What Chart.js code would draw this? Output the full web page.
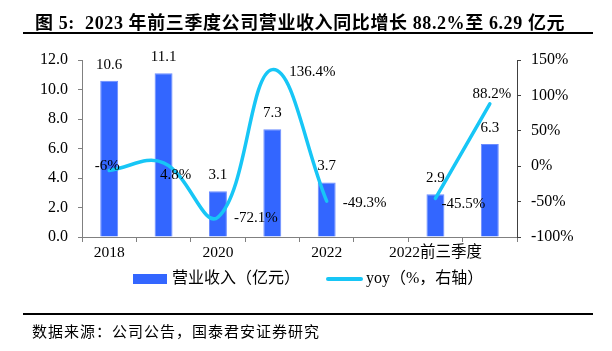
<!DOCTYPE html>
<html>
<head>
<meta charset="utf-8">
<script src="https://cdn.jsdelivr.net/npm/chart.js@4.4.0/dist/chart.umd.min.js"></script>
<style>
  html, body { margin: 0; padding: 0; background: #fff; }
  #wrap { position: relative; width: 612px; height: 351px; overflow: hidden; }
  #c { position: absolute; left: 0; top: 0; }
  .title { position: absolute; left: 35px; top: 8px; font: bold 18px "Liberation Serif", "Noto Sans CJK SC", serif; letter-spacing: 0.6px; color: #000; white-space: pre; }
  .rule { position: absolute; left: 23px; width: 570px; height: 2px; background: #000; }
  .src { position: absolute; left: 32px; top: 320px; font: 15px "Liberation Serif", "Noto Sans CJK SC", serif; letter-spacing: 1px; color: #000; white-space: nowrap; }
  .leg { position: absolute; top: 269px; font: 16px "Liberation Serif", "Noto Sans CJK SC", serif; color: #000; white-space: nowrap; line-height: 18px; }
  .box { position: absolute; left: 133px; top: 274px; width: 34px; height: 10px; background: #3366ff; }
  .ln { position: absolute; left: 326px; top: 277px; width: 37px; height: 4px; border-radius: 2px; background: #17c6f6; }
</style>
</head>
<body>
<div id="wrap">
  <canvas id="c" width="612" height="351"></canvas>
  <div class="title">图 5:  2023 年前三季度公司营业收入同比增长 88.2%至 6.29 亿元</div>
  <div class="rule" style="top:32px"></div>
  <div class="box"></div>
  <div class="leg" style="left:172px">营业收入（亿元）</div>
  <div class="ln"></div>
  <div class="leg" style="left:366px">yoy（%，右轴）</div>
  <div class="rule" style="top:313px"></div>
  <div class="src">数据来源：公司公告，国泰君安证券研究</div>
</div>
<script>
const categories = ['2018', '2019', '2020', '2021', '2022', '', '2022前三季度', '2023前三季度'];
const revenue = [10.6, 11.1, 3.1, 7.3, 3.7, null, 2.9, 6.3];
const yoy = [-6, 4.8, -72.1, 136.4, -49.3, null, -45.5, 88.2];
const leftTicks = [0, 2, 4, 6, 8, 10, 12];
const rightTicks = [-100, -50, 0, 50, 100, 150];

// label offsets (style only) for yoy labels relative to the point
const yoyOffsets = [[-2, -4], [12, 12], [38, 1], [40, 2], [38, 2], null, [28, 6], [2, -10]];

const labelPlugin = {
  id: 'vlabels',
  afterDatasetsDraw(chart) {
    const ctx = chart.ctx;
    ctx.save();
    ctx.fillStyle = '#000';
    ctx.textAlign = 'center';
    ctx.textBaseline = 'middle';
    chart.data.datasets.forEach((ds, di) => {
      const meta = chart.getDatasetMeta(di);
      meta.data.forEach((el, i) => {
        const v = ds.data[i];
        if (v === null || v === undefined) return;
        ctx.font = '15px "Liberation Serif", serif';
        if (ds.type === 'bar') {
          ctx.fillText(v.toFixed(1), el.x, el.y - 16);
        } else {
          const off = yoyOffsets[i] || [0, 0];
          ctx.fillText(v + '%', el.x + off[0], el.y + off[1]);
        }
      });
    });
    ctx.restore();
  }
};

new Chart(document.getElementById('c'), {
  data: {
    labels: categories,
    datasets: [
      {
        type: 'line', label: 'yoy（%，右轴）', data: yoy, yAxisID: 'y2', order: 0,
        borderColor: '#17c6f6', borderWidth: 3.5, tension: 0.4, pointRadius: 0,
        borderCapStyle: 'round', spanGaps: false, fill: false
      },
      {
        type: 'bar', label: '营业收入（亿元）', data: revenue, yAxisID: 'y', order: 1,
        backgroundColor: '#3366ff', borderColor: '#6b8cff', borderWidth: 1,
        barPercentage: 0.33, categoryPercentage: 1.0
      }
    ]
  },
  options: {
    responsive: false,
    animation: false,
    layout: { padding: { left: 0, right: 0, top: 60, bottom: 0 } },
    plugins: { legend: { display: false }, tooltip: { enabled: false } },
    scales: {
      x: {
        offset: true,
        grid: { offset: true, drawOnChartArea: false, drawTicks: true, tickLength: 5, color: '#808080' },
        border: { color: '#808080', width: 1 },
        ticks: {
          autoSkip: false, maxRotation: 0, padding: 2, color: '#000',
          font: { family: '"Liberation Serif", "Noto Sans CJK SC", serif', size: 15.5 },
          callback: function (v, i) { return i % 2 === 0 ? categories[i] : ''; }
        },
        afterFit: s => { s.height = 114; }
      },
      y: {
        position: 'left', min: 0, max: 12,
        afterBuildTicks: s => { s.ticks = leftTicks.map(v => ({ value: v })); },
        grid: { drawOnChartArea: false, tickLength: 4, color: '#808080' },
        border: { color: '#808080', width: 1 },
        ticks: {
          padding: 10, color: '#000',
          font: { family: '"Liberation Serif", serif', size: 16 },
          callback: v => Number(v).toFixed(1)
        },
        afterFit: s => { s.width = 82; }
      },
      y2: {
        position: 'right', min: -100, max: 150,
        afterBuildTicks: s => { s.ticks = rightTicks.map(v => ({ value: v })); },
        grid: { drawOnChartArea: false, tickLength: 4, color: '#404040' },
        border: { color: '#404040', width: 1 },
        ticks: {
          padding: 10, color: '#000',
          font: { family: '"Liberation Serif", serif', size: 16 },
          callback: v => v + '%'
        },
        afterFit: s => { s.width = 95; }
      }
    }
  },
  plugins: [labelPlugin]
});
</script>
</body>
</html>
